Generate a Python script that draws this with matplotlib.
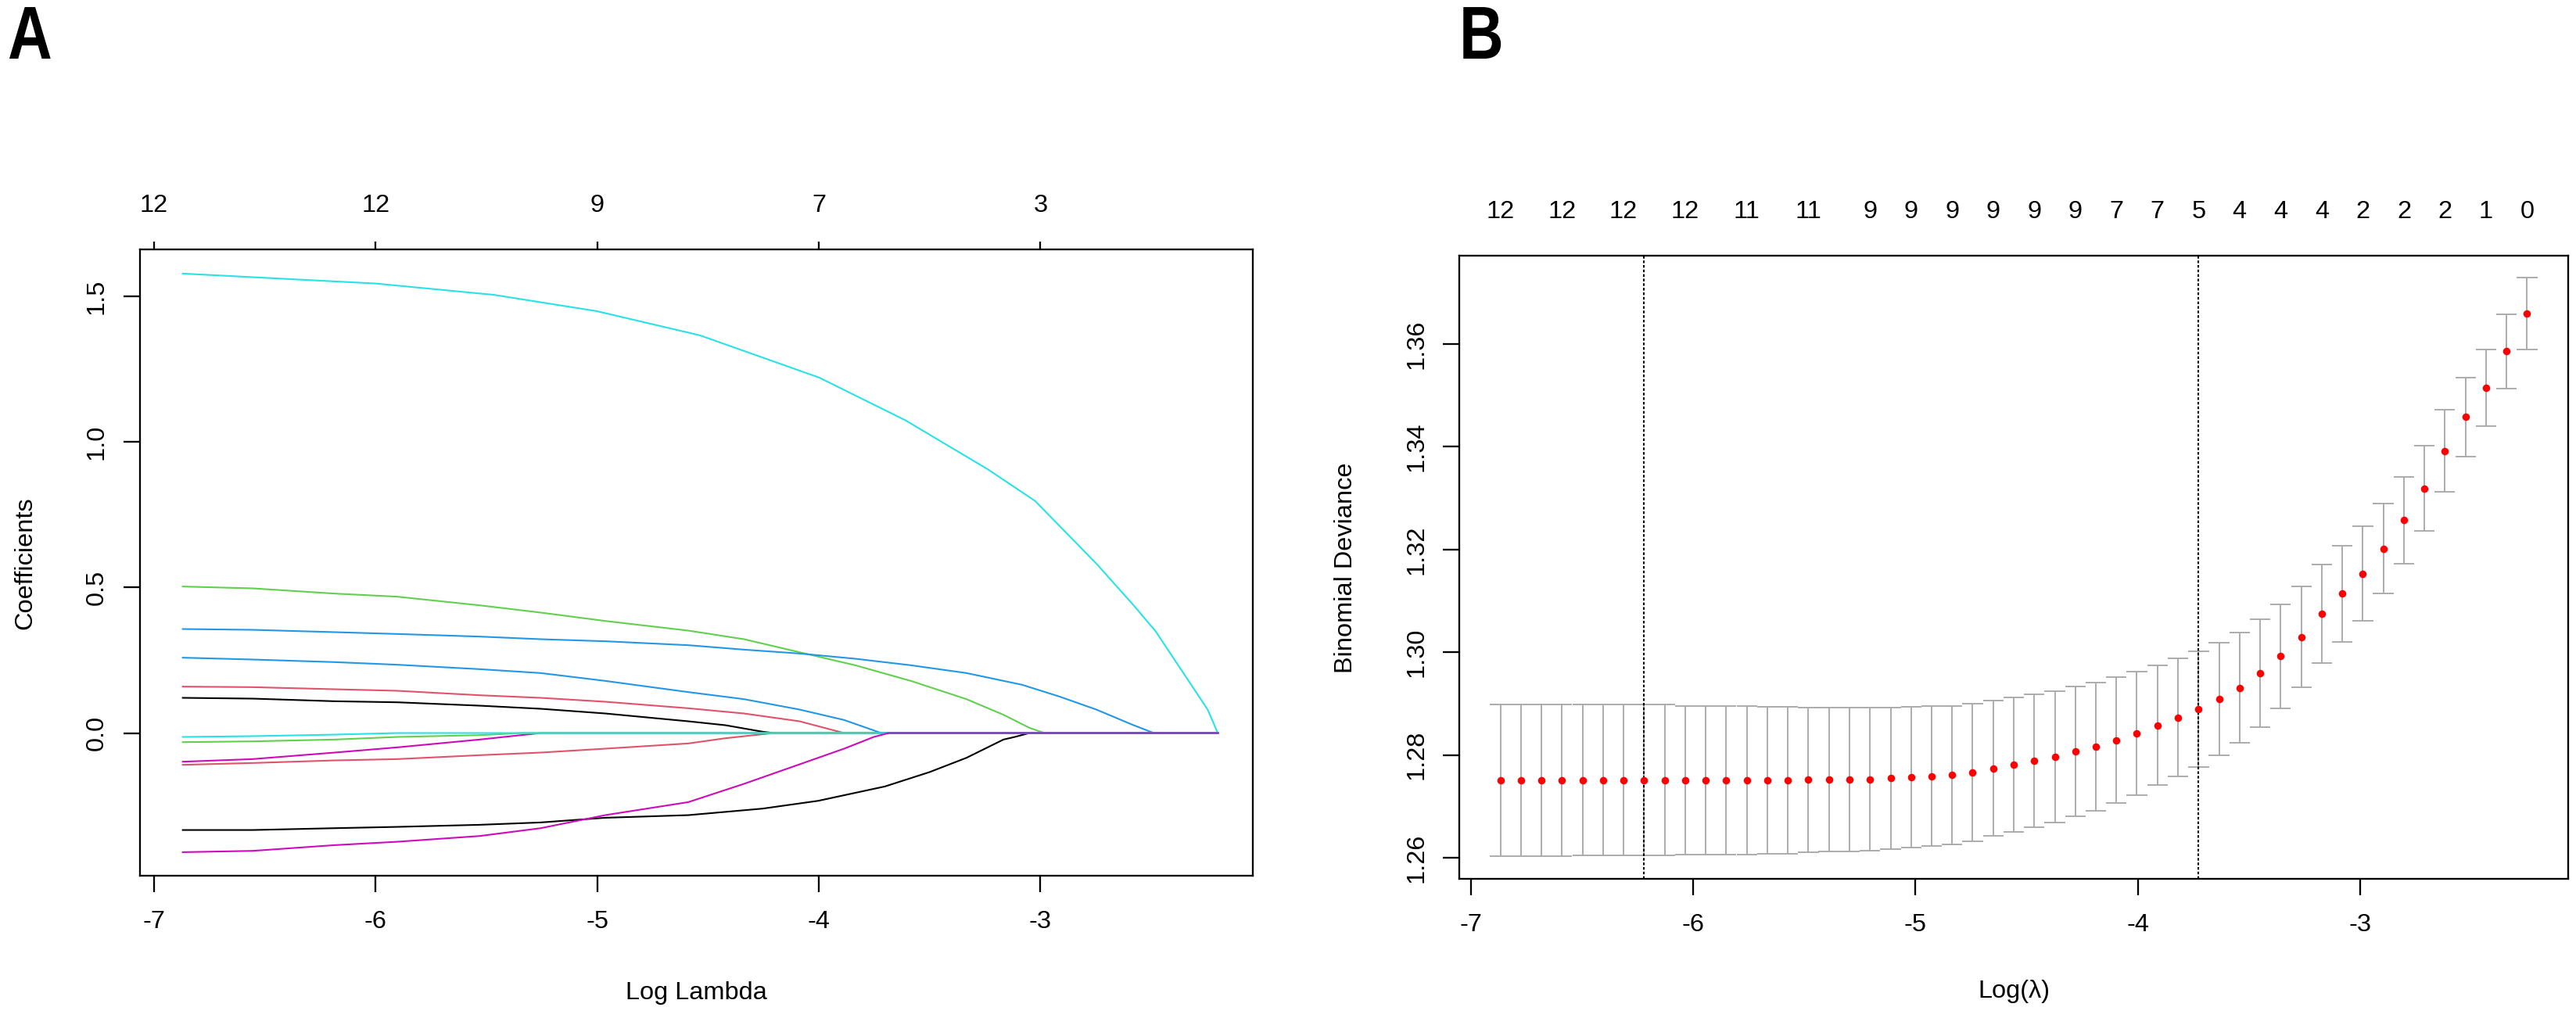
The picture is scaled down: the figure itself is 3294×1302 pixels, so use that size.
import matplotlib
matplotlib.use("Agg")
import matplotlib.pyplot as plt
from matplotlib.textpath import TextPath
from matplotlib.patches import PathPatch
from matplotlib.font_manager import FontProperties
from matplotlib.transforms import Affine2D

W, H, DPI = 3294, 1302, 300
FS = 7.8

plt.rcParams["font.family"] = ["Liberation Sans", "DejaVu Sans"]

# ---- panel A: coefficient paths (log lambda, coefficient) ----
path_end = -2.20
x5 = [-6.87, -6.555, -6.185, -5.902, -5.531, -5.255, -4.964, -4.589]

lam_black1 = x5 + [-4.422, -4.254, -4.204]
coef_black1 = [0.1209, 0.1182, 0.1092, 0.1056, 0.0940, 0.0833, 0.0672, 0.0403, 0.0269, 0.0045, 0.0]
lam_pink1 = x5 + [-4.338, -4.087, -3.886]
coef_pink1 = [0.1594, 0.1576, 0.1504, 0.1451, 0.1298, 0.1209, 0.1075, 0.0851, 0.0672, 0.0403, 0.0]
lam_green1 = x5 + [-4.338, -4.087, -3.836, -3.585, -3.334, -3.167, -3.050, -2.982]
coef_green1 = [0.5032, 0.4969, 0.4790, 0.4683, 0.4387, 0.4137, 0.3849, 0.3518,
               0.3223, 0.2775, 0.2328, 0.1791, 0.1164, 0.0627, 0.0179, 0.0]
lam_blue1 = x5 + [-4.338, -4.087, -3.836, -3.585, -3.334, -3.083, -2.915, -2.748, -2.580, -2.488]
coef_blue1 = [0.3572, 0.3545, 0.3465, 0.3402, 0.3313, 0.3223, 0.3152, 0.3017,
              0.2865, 0.2731, 0.2552, 0.2328, 0.2060, 0.1657, 0.1254, 0.0806, 0.0269, 0.0]
lam_cyan1 = [-6.87, -6.001, -5.466, -5.002, -4.537, -3.999, -3.609, -3.238,
             -3.024, -2.915, -2.748, -2.580, -2.480, -2.363, -2.246, -2.20]
coef_cyan1 = [1.578, 1.544, 1.505, 1.449, 1.366, 1.221, 1.074, 0.906,
              0.797, 0.712, 0.582, 0.439, 0.349, 0.215, 0.081, 0.0]
lam_magenta1 = [-6.87, -6.555, -6.185, -5.902, -5.531, -5.255]
coef_magenta1 = [-0.0985, -0.0895, -0.0671, -0.0492, -0.0224, 0.0]
lam_black2 = x5 + [-4.254, -4.003, -3.702, -3.501, -3.334, -3.167, -3.116, -3.050]
coef_black2 = [-0.3331, -0.3331, -0.3268, -0.3223, -0.3152, -0.3071, -0.2910, -0.2820,
               -0.2596, -0.2328, -0.1835, -0.1343, -0.0851, -0.0224, -0.0134, 0.0]
lam_pink2 = x5 + [-4.422, -4.204]
coef_pink2 = [-0.1092, -0.1029, -0.0940, -0.0895, -0.0761, -0.0671, -0.0537, -0.0358, -0.0179, 0.0]
lam_green2 = [-6.87, -6.555, -6.185, -5.902, -5.531, -5.34]
coef_green2 = [-0.0313, -0.0286, -0.0224, -0.0134, -0.0072, 0.0]
lam_blue2 = x5 + [-4.338, -4.087, -3.886, -3.752, -3.719]
coef_blue2 = [0.2588, 0.2525, 0.2436, 0.2346, 0.2194, 0.2060, 0.1791, 0.1406,
              0.1164, 0.0806, 0.0448, 0.0090, 0.0]
lam_cyan2 = [-6.87, -6.555, -6.185, -5.902]
coef_cyan2 = [-0.0134, -0.0107, -0.0054, 0.0]
lam_magenta2 = x5 + [-4.338, -4.087, -3.886, -3.752, -3.685]
coef_magenta2 = [-0.4092, -0.4047, -0.3850, -0.3734, -0.3537, -0.3268, -0.2820, -0.2373,
                 -0.1746, -0.1075, -0.0537, -0.0134, 0.0]

r_palette = ["black", "#DF536B", "#61D04F", "#2297E6", "#28E2E5", "#CD0BBC"]
paths = [
    (lam_black1, coef_black1), (lam_pink1, coef_pink1), (lam_green1, coef_green1),
    (lam_blue1, coef_blue1), (lam_cyan1, coef_cyan1), (lam_magenta1, coef_magenta1),
    (lam_black2, coef_black2), (lam_pink2, coef_pink2), (lam_green2, coef_green2),
    (lam_blue2, coef_blue2), (lam_cyan2, coef_cyan2), (lam_magenta2, coef_magenta2),
]

a_ticks = [-7, -6, -5, -4, -3]
a_top_labels = ["12", "12", "9", "7", "3"]
a_yticks = [0.0, 0.5, 1.0, 1.5]

# ---- panel B: cross-validation curve ----
lam_grid = [-6.868, -6.776, -6.683, -6.591, -6.498, -6.406, -6.314, -6.221, -6.129, -6.036,
            -5.944, -5.852, -5.759, -5.667, -5.574, -5.482, -5.390, -5.297, -5.205, -5.112,
            -5.020, -4.928, -4.835, -4.743, -4.650, -4.558, -4.466, -4.373, -4.281, -4.188,
            -4.096, -4.004, -3.911, -3.819, -3.726, -3.634, -3.542, -3.449, -3.357, -3.264,
            -3.172, -3.080, -2.987, -2.895, -2.802, -2.710, -2.618, -2.525, -2.433, -2.340,
            -2.248]
dev_mean = [1.2751, 1.2751, 1.2751, 1.2751, 1.2751, 1.2751, 1.2751, 1.2751, 1.2751, 1.2751,
            1.2751, 1.2751, 1.2751, 1.2751, 1.2751, 1.2752, 1.2752, 1.2753, 1.2753, 1.2755,
            1.2757, 1.2759, 1.2761, 1.2766, 1.2774, 1.2781, 1.2789, 1.2796, 1.2807, 1.2816,
            1.2829, 1.2842, 1.2858, 1.2873, 1.2889, 1.2909, 1.2931, 1.2959, 1.2992, 1.3030,
            1.3075, 1.3114, 1.3153, 1.3202, 1.3257, 1.3319, 1.3392, 1.3458, 1.3515, 1.3586,
            1.3659]
dev_se = [0.0148, 0.0148, 0.0148, 0.0148, 0.0147, 0.0147, 0.0147, 0.0147, 0.0147, 0.0145,
          0.0145, 0.0145, 0.0145, 0.0143, 0.0143, 0.0141, 0.0140, 0.0140, 0.0139, 0.0138,
          0.0137, 0.0136, 0.0135, 0.0134, 0.0132, 0.0131, 0.0129, 0.0128, 0.0126, 0.0125,
          0.0122, 0.0120, 0.0117, 0.0115, 0.0113, 0.0110, 0.0107, 0.0105, 0.0101, 0.0098,
          0.0096, 0.0094, 0.0092, 0.0088, 0.0085, 0.0083, 0.0080, 0.0077, 0.0075, 0.0072,
          0.0070]
b_top_idx = [0, 3, 6, 9, 12, 15, 18, 20, 22, 24, 26, 28, 30, 32, 34, 36, 38, 40, 42, 44, 46, 48, 50]
b_top_labels = ["12", "12", "12", "12", "11", "11", "9", "9", "9", "9", "9", "9",
                "7", "7", "5", "4", "4", "4", "2", "2", "2", "1", "0"]
log_lambda_min = -6.221
log_lambda_1se = -3.726
b_yticks = [1.26, 1.28, 1.30, 1.32, 1.34, 1.36]

fig = plt.figure(figsize=(W / DPI, H / DPI), dpi=DPI)


def px_axes(left, top, right, bottom):
    return fig.add_axes([left / W, 1 - bottom / H, (right - left) / W, (bottom - top) / H])


def style(ax, yticks, yfmt):
    for s in ax.spines.values():
        s.set_linewidth(0.55)
    ax.set_xticks(a_ticks)
    ax.set_xticklabels([str(t) for t in a_ticks])
    ax.set_yticks(yticks)
    ax.set_yticklabels([yfmt.format(v) for v in yticks], rotation=90, va="center")
    ax.tick_params(direction="out", length=5, width=0.55, labelsize=FS)
    ax.tick_params(axis="x", pad=5.5)
    ax.tick_params(axis="y", pad=4.6)


def panel_letter(s, x_px, base_px, squeeze=0.82):
    # bold letter, a bit condensed like the original
    tp = TextPath((0, 0), s, size=23, prop=FontProperties(family="Liberation Sans", weight="bold"))
    tr = (Affine2D().scale(squeeze / 72, 1 / 72)
          .translate(x_px / DPI, (H - base_px) / DPI) + fig.dpi_scale_trans)
    fig.add_artist(PathPatch(tp, transform=tr, facecolor="black", edgecolor="none"))


# panel A
axA = px_axes(179, 319, 1602, 1120)
for k, (lx, cy) in enumerate(paths):
    xs = list(lx)
    ys = list(cy)
    if xs[-1] < path_end:
        xs.append(path_end)
        ys.append(0.0)
    axA.plot(xs, ys, color=r_palette[k % 6], lw=0.5, solid_joinstyle="round")
axA.set_xlim(-7.063, -2.042)
axA.set_ylim(-0.490, 1.661)
style(axA, a_yticks, "{:.1f}")

topA = axA.twiny()
topA.set_xlim(axA.get_xlim())
topA.set_xticks(a_ticks)
topA.set_xticklabels(a_top_labels)
topA.tick_params(axis="x", direction="out", length=2.4, width=0.55, pad=7.4, labelsize=FS)
for s in topA.spines.values():
    s.set_visible(False)

# panel B
axB = px_axes(1866, 327, 3284, 1124)
cap = 0.0462
lower = [m - s for m, s in zip(dev_mean, dev_se)]
upper = [m + s for m, s in zip(dev_mean, dev_se)]
axB.vlines(lam_grid, lower, upper, color="#A9A9A9", lw=0.45)
axB.hlines(upper, [x - cap for x in lam_grid], [x + cap for x in lam_grid], color="#A9A9A9", lw=0.45)
axB.hlines(lower, [x - cap for x in lam_grid], [x + cap for x in lam_grid], color="#A9A9A9", lw=0.45)
axB.plot(lam_grid, dev_mean, "o", color="red", ms=2.3, mew=0, zorder=3)
for v in (log_lambda_min, log_lambda_1se):
    axB.axvline(v, color="black", lw=0.5, ls=(0, (1.6, 1.2)))
axB.set_xlim(-7.053, -2.063)
axB.set_ylim(1.2559, 1.3772)
style(axB, b_yticks, "{:.2f}")

topB = axB.twiny()
topB.set_xlim(axB.get_xlim())
topB.set_xticks([lam_grid[i] for i in b_top_idx])
topB.set_xticklabels(b_top_labels)
topB.tick_params(axis="x", length=0, pad=9.8, labelsize=FS)
for s in topB.spines.values():
    s.set_visible(False)

# axis titles and panel letters
fig.text(890 / W, 1 - 1270 / H, "Log Lambda", ha="center", va="center", fontsize=FS)
fig.text(32 / W, 1 - 720 / H, "Coefficients", ha="center", va="center", rotation=90, fontsize=FS)
fig.text(2575 / W, 1 - 1268 / H, "Log(\u03bb)", ha="center", va="center", fontsize=FS)
fig.text(1721 / W, 1 - 726 / H, "Binomial Deviance", ha="center", va="center", rotation=90, fontsize=FS)
panel_letter("A", 10, 75)
panel_letter("B", 1866, 75)

fig.savefig("out.png", dpi=DPI, facecolor="white")
